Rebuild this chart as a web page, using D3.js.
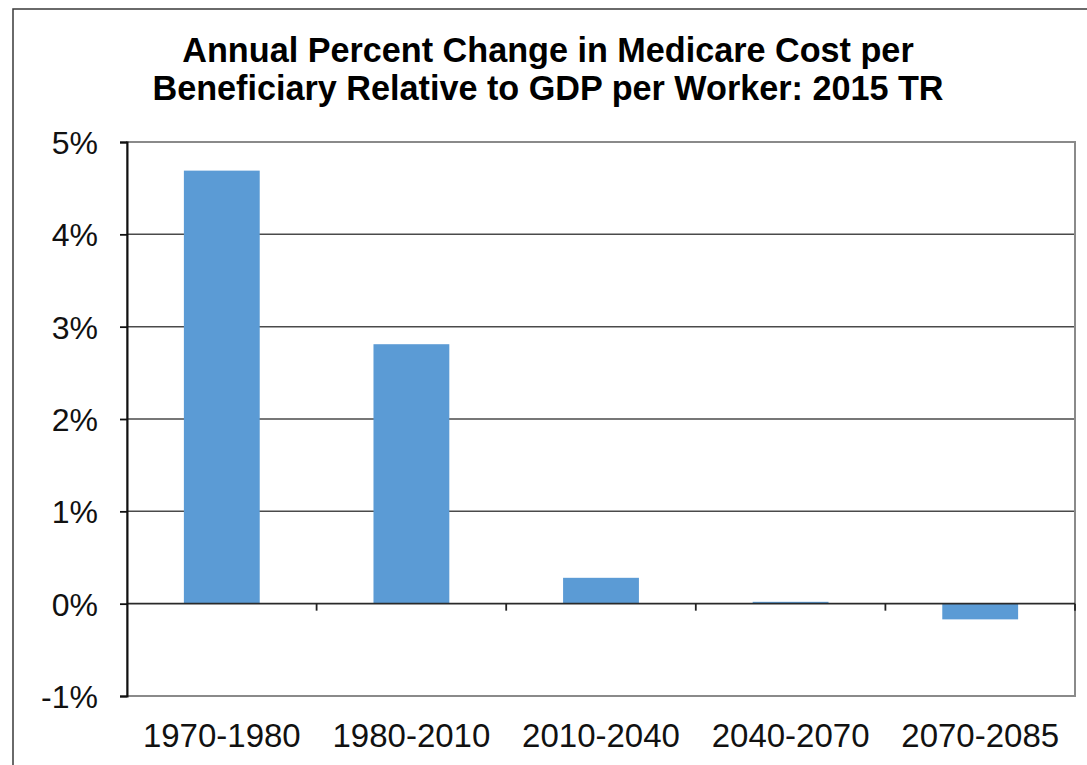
<!DOCTYPE html>
<html><head><meta charset="utf-8">
<script src="https://cdn.jsdelivr.net/npm/d3@7"></script>
<style>html,body{margin:0;padding:0;background:#fff;overflow:hidden}</style>
</head><body>
<script>
const categories = ["1970-1980","1980-2010","2010-2040","2040-2070","2070-2085"];
const values = [4.69, 2.81, 0.28, 0.02, -0.17];
const yTicks = [-1,0,1,2,3,4,5];
const titleLines = ["Annual Percent Change in Medicare Cost per","Beneficiary Relative to GDP per Worker: 2015 TR"];

const W = 1087, H = 765;
const svg = d3.select("body").append("svg").attr("width", W).attr("height", H);
const m = {left:127, top:142, right:1075, bottom:696};

svg.append("rect").attr("x",13).attr("y",9).attr("width",1100).attr("height",800)
  .attr("fill","none").attr("stroke","#3a3a3a").attr("stroke-width",1.5);

const x = d3.scaleBand().domain(categories).range([m.left, m.right]).paddingInner(0.6).paddingOuter(0.3);
const xc = d3.scaleBand().domain(categories).range([m.left, m.right]);
const y = d3.scaleLinear().domain([-1,5]).range([m.bottom, m.top]);

// title
svg.append("g").selectAll("text").data(titleLines).join("text")
  .attr("x", 548).attr("y",(d,i)=>62+i*38).attr("text-anchor","middle")
  .attr("font-family","Liberation Sans, Arial, sans-serif").attr("font-weight","bold")
  .attr("font-size",34.2).attr("fill","#000").text(d=>d);

// gridlines
svg.append("g").selectAll("line").data(yTicks.filter(t=>t>-1 && t<5 && t!==0)).join("line")
  .attr("x1",m.left).attr("x2",m.right).attr("y1",d=>y(d)).attr("y2",d=>y(d))
  .attr("stroke","#4a4a4a").attr("stroke-width",1.5);

// plot border
svg.append("rect").attr("x",m.left).attr("y",m.top).attr("width",m.right-m.left).attr("height",m.bottom-m.top)
  .attr("fill","none").attr("stroke","#8a8a8a").attr("stroke-width",2);

// bars
svg.append("g").selectAll("rect").data(values).join("rect")
  .attr("x",(d,i)=>x(categories[i])).attr("width",x.bandwidth())
  .attr("y",d=>y(Math.max(0,d))).attr("height",d=>Math.abs(y(d)-y(0)))
  .attr("fill","#5b9bd5");

// zero line
svg.append("line").attr("x1",m.left).attr("x2",m.right).attr("y1",y(0)).attr("y2",y(0))
  .attr("stroke","#2a2a2a").attr("stroke-width",1.8);

// category ticks
svg.append("g").selectAll("line").data(categories.slice(1).concat(["end"])).join("line")
  .attr("x1",(d,i)=>i<4?xc(d):m.right).attr("x2",(d,i)=>i<4?xc(d):m.right)
  .attr("y1",y(0)).attr("y2",y(0)+7).attr("stroke","#222").attr("stroke-width",1.8);

// y axis
const yAxis = svg.append("g").attr("transform",`translate(${m.left},0)`)
  .call(d3.axisLeft(y).tickValues(yTicks).tickSize(7).tickPadding(22).tickFormat(d=>d+"%"));
yAxis.select(".domain").attr("stroke","#111").attr("stroke-width",2);
yAxis.selectAll(".tick line").attr("stroke","#111").attr("stroke-width",1.8);
yAxis.selectAll("text").attr("font-family","Liberation Sans, Arial, sans-serif").attr("font-size",32).attr("fill","#111").attr("dy","0.36em");

// x labels
svg.append("g").selectAll("text").data(categories).join("text")
  .attr("x",d=>xc(d)+xc.bandwidth()/2).attr("y",747).attr("text-anchor","middle")
  .attr("font-family","Liberation Sans, Arial, sans-serif").attr("font-size",33).attr("fill","#111").text(d=>d);
</script>
</body></html>
